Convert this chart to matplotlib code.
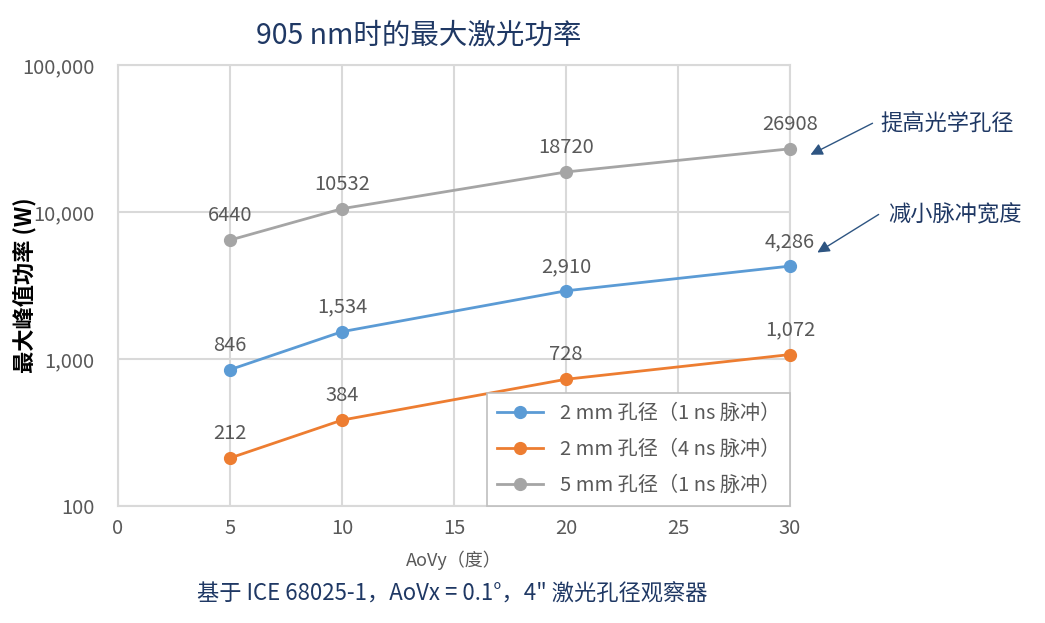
"""
905 nm max laser power chart
"""
import matplotlib
matplotlib.use("Agg")
import matplotlib.pyplot as plt
from matplotlib.patches import FancyArrowPatch

plt.rcParams['font.family'] = ['Noto Sans CJK SC', 'DejaVu Sans']

#data
aovy = [5, 10, 20, 30]
blue_power = [846, 1534, 2910, 4286]
orange_power = [212, 384, 728, 1072]
gray_power = [6440, 10532, 18720, 26908]
blue_labels = ["846", "1,534", "2,910", "4,286"]
orange_labels = ["212", "384", "728", "1,072"]
gray_labels = ["6440", "10532", "18720", "26908"]
series_names = ["2 mm 孔径（1 ns 脉冲）", "2 mm 孔径（4 ns 脉冲）", "5 mm 孔径（1 ns 脉冲）"]
y_ticks = [100, 1000, 10000, 100000]
y_tick_labels = ["100", "1,000", "10,000", "100,000"]
x_ticks = [0, 5, 10, 15, 20, 25, 30]

#colours
blue = "#5b9bd5"
orange = "#ed7d31"
gray = "#a5a5a5"
grid_color = "#d9d9d9"
text_gray = "#595959"
navy = "#1f3864"

fig = plt.figure(figsize=(10.45, 6.23), dpi=100)
ax = fig.add_axes([118 / 1045, 1 - 506 / 623, (790 - 118) / 1045, (506 - 65) / 623])

lines = []
for values, labels, color, name in [(blue_power, blue_labels, blue, series_names[0]),
                                    (orange_power, orange_labels, orange, series_names[1]),
                                    (gray_power, gray_labels, gray, series_names[2])]:
    line, = ax.plot(aovy, values, "-o", color=color, lw=2.0, markersize=8.5,
                    label=name, zorder=3, clip_on=False)
    lines.append(line)
    for x, y, text in zip(aovy, values, labels):
        ax.annotate(text, (x, y), textcoords="offset points", xytext=(0, 10),
                    ha="center", va="bottom", fontsize=14.5, color=text_gray)

#axes
ax.set_yscale("log")
ax.set_ylim(100, 100000)
ax.set_xlim(0, 30)
ax.set_yticks(y_ticks)
ax.set_yticklabels(y_tick_labels)
ax.minorticks_off()
ax.set_xticks(x_ticks)
ax.tick_params(axis="both", length=0, colors=text_gray, labelsize=14.5)
ax.tick_params(axis="y", pad=17)
ax.tick_params(axis="x", pad=9)
ax.grid(True, color=grid_color, lw=1.5, zorder=0)
ax.set_axisbelow(True)
for spine in ax.spines.values():
    spine.set_color(grid_color)
    spine.set_linewidth(1.5)

#labels
ax.set_ylabel("最大峰值功率 (W)", fontsize=16, fontweight="bold", color="black")
ax.yaxis.set_label_coords(-82 / 672, 0.5)
ax.set_xlabel("AoVy（度）", fontsize=13, color=text_gray, labelpad=8)
fig.text(419 / 1045, 1 - 36 / 623, "905 nm时的最大激光功率", ha="center", va="center",
         fontsize=20.5, color=navy)
fig.text(452 / 1045, 1 - 594 / 623, "基于 ICE 68025-1，AoVx = 0.1°，4\" 激光孔径观察器",
         ha="center", va="center", fontsize=16, color=navy)

leg = ax.legend(handles=lines, loc="lower right", fontsize=14.5, frameon=True,
                fancybox=False, edgecolor="#bfbfbf", framealpha=1, labelcolor=text_gray,
                handlelength=2.3, borderpad=0.5, labelspacing=0.75, borderaxespad=0)
leg.get_frame().set_linewidth(1.2)

#annotations
fig.text(880 / 1045, 1 - 123 / 623, "提高光学孔径", ha="left", va="center",
         fontsize=16, color=navy)
fig.text(888 / 1045, 1 - 215 / 623, "减小脉冲宽度", ha="left", va="center",
         fontsize=16, color=navy)
arrow = dict(arrowstyle="-|>,head_length=0.6,head_width=0.3", color="#2e5582", lw=1.0)
fig.add_artist(FancyArrowPatch((875 / 1045, 1 - 122 / 623), (808 / 1045, 1 - 156 / 623),
                               transform=fig.transFigure, mutation_scale=12, **arrow))
fig.add_artist(FancyArrowPatch((881 / 1045, 1 - 213 / 623), (815 / 1045, 1 - 254 / 623),
                               transform=fig.transFigure, mutation_scale=12, **arrow))

fig.savefig("out.png", dpi=100, facecolor="white")
